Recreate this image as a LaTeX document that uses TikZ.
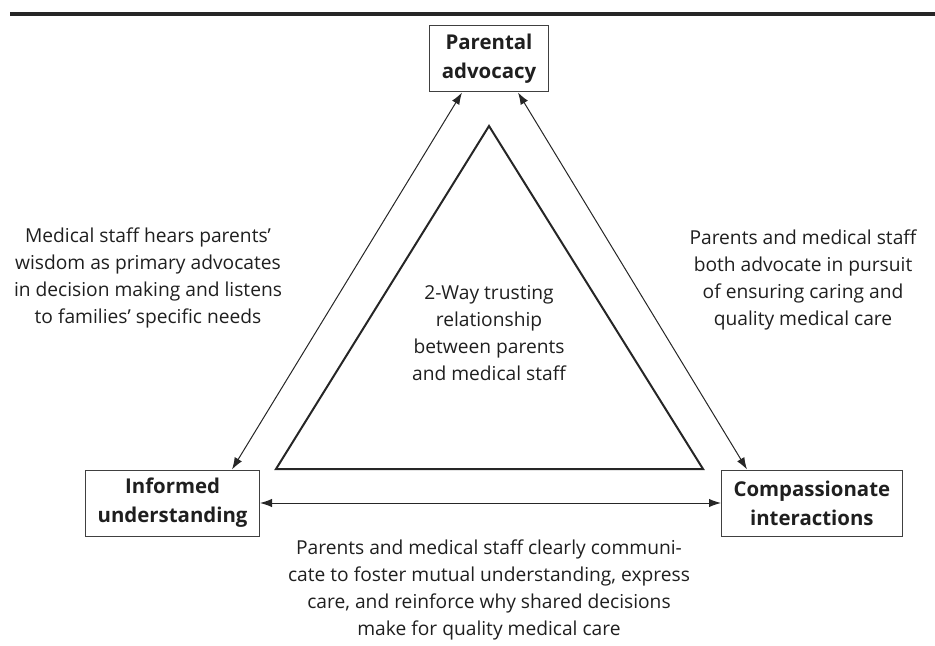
\documentclass[tikz,border=0pt]{standalone}
\usepackage{fontspec}
\setmainfont{Open Sans}
\usepackage{tikz}
\usetikzlibrary{positioning,shapes,arrows.meta}

\begin{document}
\begin{tikzpicture}[x=0.5pt, y=-0.5pt,
    every node/.style={font=\fontsize{9.6}{13.4}\selectfont, text=black!88, align=center},
    stage/.style={draw=black!75, line width=0.5pt, inner xsep=6pt, minimum height=33pt,
                  font=\bfseries\fontsize{10.2}{14.5}\selectfont},
    link/.style={{Latex[length=6pt,width=4.2pt]}-{Latex[length=6pt,width=4.2pt]},
                 line width=0.5pt, black!85},
    note/.style={inner sep=0pt}]
  \useasboundingbox (0,0) rectangle (935,646);
  % rule under the heading
  \draw[line width=2pt, black!85] (10,14.5) -- (935,14.5);

  % the three corners
  \node[stage] (advocacy) at (489,59) {Parental\\advocacy};
  \node[stage, anchor=east] (informed) at (260,503) {Informed\\understanding};
  \node[stage, anchor=west] (compassion) at (721,503) {Compassionate\\interactions};

  % trust triangle
  \draw[line width=1pt, black!85, line join=miter] (489,126) -- (276,469) -- (703,469) -- cycle;
  \node[note] (trust) at (489,333) {2-Way trusting\\relationship\\between parents\\and medical staff};

  % two-way links
  \draw[link] ([xshift=-13.5pt]advocacy.south) -- ([xshift=-14pt]informed.north east);
  \draw[link] ([xshift=14.5pt]advocacy.south) -- ([xshift=13pt]compassion.north west);
  \draw[link] (informed.east) -- (compassion.west);

  % what each link stands for
  \node[note] (hears) at (148,278) {Medical staff hears parents’\\wisdom as primary advocates\\in decision making and listens\\to families’ specific needs};
  \node[note] (pursuit) at (803,280) {Parents and medical staff\\both advocate in pursuit\\of ensuring caring and\\quality medical care};
  \node[note] (talk) at (489,590) {Parents and medical staff clearly communi-\\cate to foster mutual understanding, express\\care, and reinforce why shared decisions\\make for quality medical care};
\end{tikzpicture}
\end{document}
